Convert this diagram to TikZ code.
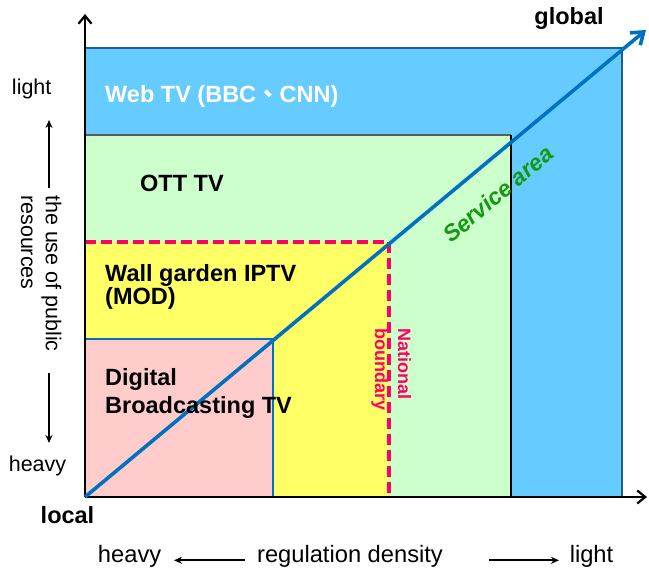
\documentclass[tikz,border=0pt]{standalone}
\usepackage{fontspec,xcolor,tikz}
\setmainfont{Liberation Sans}
\newfontfamily\cjk{Noto Sans CJK TC}
\usetikzlibrary{arrows.meta}
\definecolor{ink}{HTML}{000000}
\definecolor{webfill}{HTML}{66CCFF}
\definecolor{webedge}{HTML}{1F5F8F}
\definecolor{ottfill}{HTML}{CCFFCC}
\definecolor{ottedge}{HTML}{5A5A5A}
\definecolor{wallfill}{HTML}{FFFF66}
\definecolor{dtvfill}{HTML}{FFCCCC}
\definecolor{border}{HTML}{FF0066}
\definecolor{svc}{HTML}{0070C0}
\definecolor{svctext}{HTML}{129A12}
\newcommand{\zone}{\fontsize{23.5}{28}\selectfont\bfseries}
\newcommand{\side}{\fontsize{21.5}{25}\selectfont}
\newcommand{\foot}{\fontsize{23.7}{28}\selectfont}
\newcommand{\natl}{\fontsize{18}{21}\selectfont\bfseries}
\newcommand{\svcf}{\fontsize{23}{27}\selectfont\bfseries\itshape}

\begin{document}
\begin{tikzpicture}[x=1pt,y=1pt,
  zone/.style={inner sep=0,anchor=base west,text=ink,font=\zone},
  side/.style={inner sep=0,anchor=base,text=ink,font=\side},
  foot/.style={inner sep=0,anchor=base,text=ink,font=\foot},
  axisline/.style={ink,line width=2.6pt,-{Straight Barb[length=8pt,width=13pt,line width=2.2pt]}},
  guide/.style={ink,line width=1.6pt,-{Stealth[length=8pt,width=7pt]}}]
\useasboundingbox (0,0) rectangle (649,571);
% service zones
\fill[webfill] (85,74) rectangle (622,523);
\draw[webedge,line width=1.8pt] (85,523) -- (622,523) -- (622,74);
\fill[ottfill] (85,74) rectangle (511,436);
\draw[ottedge,line width=2pt] (85,436) -- (511,436);
\draw[ink,line width=2.2pt] (511,436) -- (511,74);
\fill[wallfill] (85,74) rectangle (389,329);
\draw[border,line width=3.2pt,dash pattern=on 11pt off 5pt] (85,329) -- (389,329) -- (389,74);
\fill[dtvfill] (85,74) rectangle (273,232);
\draw[svc,line width=1.8pt] (85,232) -- (273,232) -- (273,74);
% axes
\coordinate (origin) at (85,74);
\coordinate (ytip) at (85,557);
\coordinate (xtip) at (647,74);
\draw[axisline] (origin) -- (ytip);
\draw[axisline] (origin) -- (xtip);
\coordinate (svctip) at (646,541);
\draw[svc,line width=3.6pt,-{Straight Barb[length=11pt,width=16pt]}] (origin) -- (svctip);
% zone labels
\node[zone,text=white] (web) at (105,468.7) {Web TV (BBC{\cjk 、}CNN)};
\node[zone] (ott) at (140,379.3) {OTT TV};
\node[zone] (wall) at (105,289.3) {Wall garden IPTV};
\node[zone] (mod) at (105,266.7) {(MOD)};
\node[zone] (dtv) at (105,185) {Digital};
\node[zone] (dtvb) at (105,157.7) {Broadcasting TV};
\node[inner sep=0,anchor=base west,rotate=-90,text=border,font=\natl] (natl) at (398,243) {National};
\node[inner sep=0,anchor=base west,rotate=-90,text=border,font=\natl] (bound) at (375,243) {boundary};
\node[inner sep=0,rotate=40,text=svctext,font=\svcf] (svcl) at (498,377) {Service area};
\node[inner sep=0,anchor=base,text=ink,font=\zone] (glob) at (569,546) {global};
\node[inner sep=0,anchor=base,text=ink,font=\zone] (loc) at (67.5,47) {local};
% vertical scale
\node[side] (vlight) at (31.7,476.7) {light};
\node[side] (vheavy) at (37.5,99.3) {heavy};
\node[side,anchor=base west,rotate=-90] (use) at (46,376) {the use of public};
\node[side,anchor=base west,rotate=-90] (res) at (21,376) {resources};
\coordinate (upfrom) at (49,383);
\coordinate (upto) at (49,451);
\coordinate (dnfrom) at (49,198);
\coordinate (dnto) at (49,128);
\draw[guide] (upfrom) -- (upto);
\draw[guide] (dnfrom) -- (dnto);
% horizontal scale
\node[foot] (hheavy) at (129.6,8.3) {heavy};
\node[foot] (reg) at (350,8.3) {regulation density};
\node[foot] (hlight) at (591.5,8.3) {light};
\coordinate (lfrom) at (245,10.7);
\coordinate (lto) at (174,10.7);
\coordinate (rfrom) at (489,10.7);
\coordinate (rto) at (559,10.7);
\draw[guide] (lfrom) -- (lto);
\draw[guide] (rfrom) -- (rto);
\end{tikzpicture}
\end{document}
